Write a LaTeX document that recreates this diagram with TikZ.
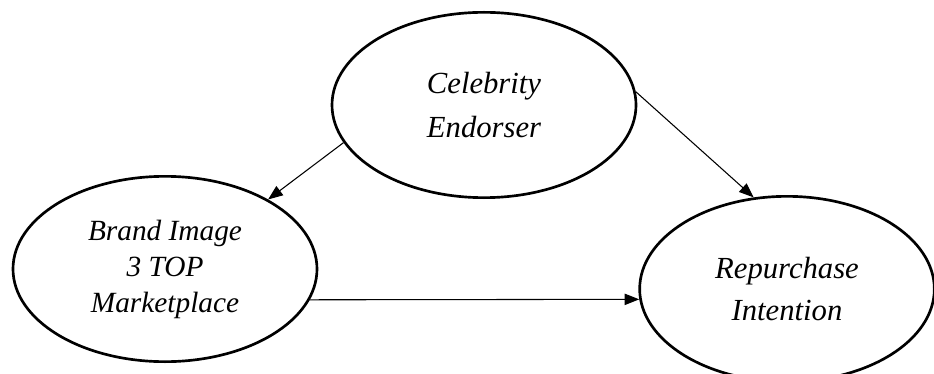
\documentclass[tikz,border=0pt]{standalone}
\usepackage{fontspec}
\setmainfont{Liberation Serif}
\usetikzlibrary{arrows.meta}
\usetikzlibrary{positioning}
\usetikzlibrary{shapes.geometric}

\tikzset{
  construct/.style={ellipse, draw, line width=2pt, inner sep=0pt,
    minimum width=228pt, minimum height=139pt, align=center,
    font=\itshape\fontsize{23}{31}\selectfont},
  path/.style={draw, line width=0.8pt, -{Triangle[length=11pt, width=8.5pt]}}
}

\begin{document}
\begin{tikzpicture}[x=0.75pt, y=-0.75pt]
    \useasboundingbox (0, 0) rectangle (934, 374);

    \node [construct] (celeb) at (484, 105) {Celebrity\\[2pt]Endorser};
    \node [construct, font=\itshape\fontsize{22}{27}\selectfont] (brand) at (165, 269) {Brand Image\\3 TOP\\Marketplace};
    \node [construct, minimum width=221pt] (repur) at (787, 289) {Repurchase\\Intention};

    \draw [path] (celeb.195.8) -- (brand.34.3);
    \draw [path] (celeb.5.7) -- (repur.110.7);
    \draw [path] (brand.-12.2) -- (repur.184.3);
  \end{tikzpicture}
\end{document}
